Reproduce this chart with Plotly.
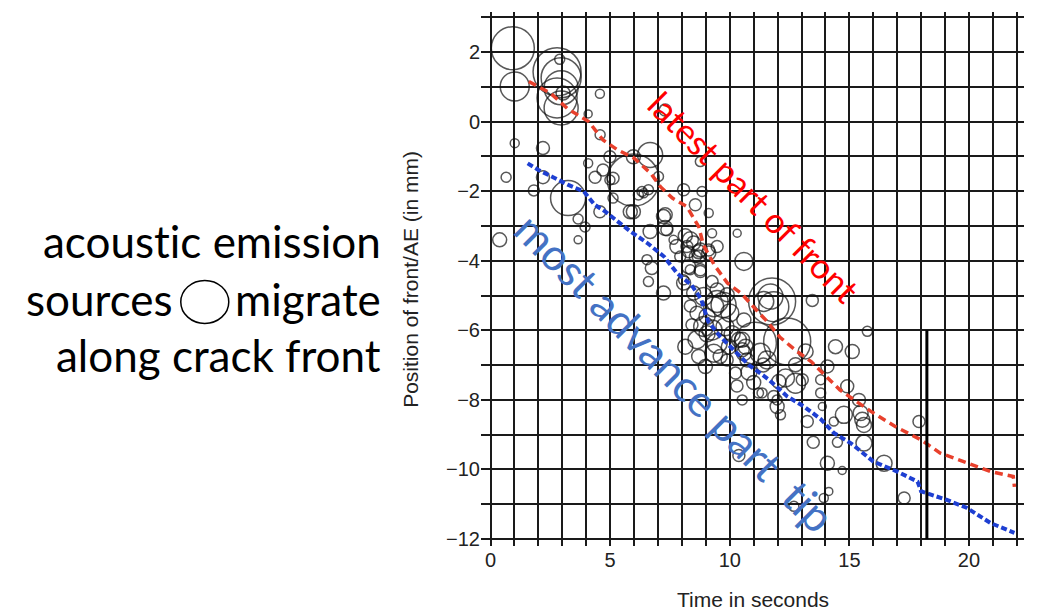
import plotly.graph_objects as go

# Acoustic emission sources: time (s), position along crack (mm), relative amplitude
ae_time = [
    0.93, 1.01, 2.78, 2.95, 2.95, 2.78, 2.95, 2.89, 3.03, 4.57, 4.08, 4.58,
    1.01, 2.19, 0.65, 4.08, 4.70, 4.99, 4.37, 2.19, 1.81, 3.24, 3.66, 3.95,
    3.66, 0.38, 5.12, 4.57, 4.99, 5.12, 5.84, 5.97, 6.67, 5.97, 7.30, 8.77,
    7.02, 6.33, 6.60, 6.18, 6.40, 8.07, 8.84, 8.56, 5.97, 7.30, 9.12, 6.67,
    7.30, 7.65, 8.35, 8.14, 8.49, 8.77, 8.28, 8.56, 6.54, 6.74, 7.93, 8.35,
    8.70, 6.60, 8.07, 8.77, 9.12, 10.31, 9.26, 9.47, 9.89, 7.23, 7.37, 7.79,
    7.23, 8.21, 8.70, 9.12, 9.47, 10.59, 8.28, 8.77, 9.26, 8.07, 8.49, 8.91,
    9.47, 9.74, 8.63, 9.05, 9.33, 8.42, 8.91, 9.26, 8.63, 9.47, 9.96, 8.14,
    8.70, 10.38, 10.52, 10.72, 9.89, 11.70, 11.84, 11.77, 12.40, 11.07, 13.45, 11.42,
    10.59, 10.52, 10.66, 10.59, 11.28, 11.56, 13.17, 12.75, 12.33, 12.75, 12.05, 11.35,
    11.84, 11.98, 12.12, 10.52, 13.80, 13.80, 13.24, 10.24, 15.75, 14.42, 15.12, 14.08,
    13.03, 14.91, 15.40, 13.87, 14.77, 15.47, 15.54, 15.61, 14.35, 17.91, 15.61, 13.49,
    14.50, 14.08, 14.70, 16.45, 14.14, 13.93, 17.29, 12.68, 10.38, 11.98, 11.20, 9.05,
    9.33, 8.98, 9.60, 10.10, 10.00, 8.35, 9.80, 10.80, 11.00, 10.30, 11.40,
]
ae_position = [
    2.11, 1.01, 1.43, 1.26, 0.97, 0.68, 0.39, 1.79, 0.82, 0.80, 0.22, -0.38,
    -0.62, -0.76, -1.60, -1.20, -1.39, -1.01, -1.60, -1.60, -1.98, -2.20, -2.80, -3.03,
    -3.40, -3.40, -2.20, -2.59, -1.68, -1.63, -2.59, -1.68, -0.96, -1.01, 0.33, -1.15,
    -1.58, -2.01, -1.96, -2.11, -2.06, -1.96, -2.01, -2.39, -2.59, -2.68, -2.63, -3.16,
    -3.06, -3.40, -3.40, -3.28, -3.49, -3.69, -3.74, -3.88, -3.97, -4.21, -3.88, -4.26,
    -3.88, -4.60, -4.55, -4.26, -3.69, -3.21, -3.21, -4.84, -4.98, -2.73, -3.11, -3.59,
    -4.93, -3.59, -3.74, -3.78, -3.59, -4.02, -4.17, -4.31, -4.60, -4.64, -4.93, -5.03,
    -5.17, -5.27, -5.51, -5.60, -5.32, -5.84, -5.89, -5.99, -6.27, -6.37, -6.47, -6.47,
    -6.75, -6.27, -6.56, -6.85, -6.85, -5.03, -5.32, -5.17, -6.32, -6.37, -5.14, -5.17,
    -5.70, -6.27, -6.47, -6.66, -6.66, -6.85, -6.61, -6.99, -7.37, -7.52, -7.47, -7.80,
    -7.90, -8.19, -8.43, -8.00, -7.42, -7.80, -8.62, -7.23, -6.03, -6.47, -6.61, -7.04,
    -7.42, -7.61, -8.00, -8.19, -8.43, -8.38, -8.57, -8.72, -8.62, -8.62, -9.24, -9.22,
    -9.22, -9.82, -10.03, -9.82, -10.63, -10.82, -10.82, -11.06, -9.60, -8.00, -7.80, -6.10,
    -6.66, -7.04, -6.75, -6.10, -5.50, -5.30, -5.90, -7.20, -7.50, -7.60, -7.00,
]
ae_amplitude = [
    43, 29, 48, 40, 34, 40, 34, 10, 14, 9, 8, 10,
    9, 13, 10, 9, 12, 12, 12, 13, 11, 35, 10, 10,
    8, 14, 10, 12, 10, 12, 14, 52, 25, 14, 12, 10,
    10, 10, 10, 10, 9, 12, 10, 12, 14, 14, 9, 14,
    15, 9, 16, 14, 14, 14, 12, 12, 10, 13, 11, 10,
    13, 10, 10, 12, 12, 8, 9, 14, 14, 14, 12, 14,
    14, 12, 14, 14, 12, 18, 14, 12, 12, 14, 14, 18,
    22, 25, 14, 16, 20, 12, 20, 20, 18, 20, 15, 15,
    14, 15, 14, 14, 12, 25, 30, 47, 47, 42, 12, 20,
    14, 15, 15, 15, 20, 18, 15, 14, 18, 20, 14, 10,
    12, 14, 10, 10, 10, 10, 12, 12, 10, 14, 14, 13,
    12, 13, 13, 8, 17, 15, 15, 15, 9, 12, 16, 12,
    10, 14, 8, 16, 8, 9, 12, 10, 12, 10, 10, 16,
    18, 14, 14, 16, 18, 12, 18, 16, 14, 12, 14,
]

# Latest (trailing) part of the rupture front
latest_time = [1.6, 2.5, 3.2, 4.1, 4.7, 5.3, 6.0, 6.7, 7.1, 7.6, 8.2, 8.7, 8.9, 9.35,
               9.9, 10.5, 11.1, 11.5, 12.1, 12.8, 13.4, 14.1, 14.6, 15.2, 15.9, 16.9,
               18.0, 18.8, 19.9, 20.9, 21.5, 21.85, 21.9]
latest_pos = [1.15, 0.82, 0.38, 0.0, -0.53, -0.81, -1.05, -1.49, -1.87, -2.20, -2.44,
              -3.02, -3.55, -4.12, -4.64, -4.95, -5.41, -5.70, -6.20, -6.60, -6.90,
              -7.38, -7.71, -8.00, -8.33, -8.76, -9.15, -9.53, -9.80, -10.06, -10.15,
              -10.2, -10.5]

# Most advanced part of the front (crack tip)
tip_time = [1.55, 2.0, 2.55, 3.25, 3.9, 4.35, 4.8, 5.2, 5.85, 6.55, 7.25, 7.8, 8.4,
            8.8, 9.1, 9.6, 10.05, 10.8, 11.6, 12.4, 13.1, 13.8, 14.35, 15.05, 16.0,
            17.0, 17.85, 18.0, 19.05, 19.9, 20.9, 21.9]
tip_pos = [-1.2, -1.39, -1.58, -1.82, -2.01, -2.39, -2.59, -2.82, -3.16, -3.49, -3.88,
           -4.36, -4.70, -5.10, -5.75, -6.18, -6.50, -7.0, -7.4, -7.9, -8.19, -8.55,
           -8.95, -9.24, -9.77, -10.06, -10.35, -10.63, -10.87, -11.1, -11.54, -11.82]

# Vertical time marker
marker_time = [18.24, 18.24]
marker_pos = [-6.0, -12.0]

x_tickvals = list(range(0, 23))
x_ticktext = [str(v) if v % 5 == 0 else "" for v in x_tickvals]
y_tickvals = list(range(-12, 4))
y_ticktext = [(str(v).replace("-", "\u2212") if v % 2 == 0 and v <= 2 else "") for v in y_tickvals]

# zero-width non-joiner keeps "t" and "i" as separate glyphs
ZWNJ = "\u200c"

fig = go.Figure()

fig.add_trace(go.Scatter(
    x=ae_time, y=ae_position, mode="markers",
    marker=dict(symbol="circle-open", size=ae_amplitude, sizemode="diameter",
                color="#111111", line=dict(width=1.5, color="#111111")),
    hoverinfo="skip", showlegend=False,
))
fig.add_trace(go.Scatter(
    x=latest_time, y=latest_pos, mode="lines",
    line=dict(color="#E8402C", width=3.5, dash="8px,5px"),
    hoverinfo="skip", showlegend=False,
))
fig.add_trace(go.Scatter(
    x=tip_time, y=tip_pos, mode="lines",
    line=dict(color="#1E3FD2", width=4, dash="6px,3px"),
    hoverinfo="skip", showlegend=False,
))
fig.add_trace(go.Scatter(
    x=marker_time, y=marker_pos, mode="lines",
    line=dict(color="#000000", width=3),
    hoverinfo="skip", showlegend=False,
))

tick_font = dict(family="Liberation Sans, Arial, sans-serif", size=20, color="#222222")
title_font = dict(family="Liberation Sans, Arial, sans-serif", size=21, color="#222222")

fig.update_xaxes(
    range=[-0.4, 22.3], tickmode="array", tickvals=x_tickvals, ticktext=x_ticktext,
    showgrid=True, gridcolor="#1a1a1a", gridwidth=1.5, zeroline=False, showline=False,
    ticks="", tickfont=tick_font, fixedrange=True,
)
fig.update_yaxes(
    range=[-12.2, 3.15], tickmode="array", tickvals=y_tickvals, ticktext=y_ticktext,
    showgrid=True, gridcolor="#1a1a1a", gridwidth=1.5, zeroline=False, showline=False,
    ticks="", tickfont=tick_font, fixedrange=True,
)

side_font = dict(family="Lato, Noto Sans, sans-serif", size=44, color="#000000")
annotations = [
    dict(text="Time in seconds", xref="paper", yref="paper", x=0.5, y=-0.1,
         xanchor="center", yanchor="middle", showarrow=False, font=title_font),
    dict(text="Position of front/AE (in mm)", xref="paper", yref="paper", x=-0.131, y=0.5,
         xanchor="center", yanchor="middle", textangle=-90, showarrow=False, font=title_font),
    dict(text="acoust" + ZWNJ + "ic emission", xref="paper", yref="paper", x=-0.1806, y=0.571,
         xanchor="right", yanchor="middle", showarrow=False, font=side_font),
    dict(text="sources", xref="paper", yref="paper", x=-0.5632, y=0.463,
         xanchor="right", yanchor="middle", showarrow=False, font=side_font),
    dict(text="migrate", xref="paper", yref="paper", x=-0.1806, y=0.463,
         xanchor="right", yanchor="middle", showarrow=False, font=side_font),
    dict(text="along crack front", xref="paper", yref="paper", x=-0.1806, y=0.357,
         xanchor="right", yanchor="middle", showarrow=False, font=side_font),
    dict(text="latest part of front", x=11.05, y=-2.16, xanchor="center", yanchor="middle",
         textangle=45, showarrow=False,
         font=dict(family="Lato, Noto Sans, sans-serif", size=35, color="#FF0000")),
    dict(text="most advance part  t" + ZWNJ + "ip", x=7.72, y=-7.19, xanchor="center",
         yanchor="middle", textangle=45, showarrow=False,
         font=dict(family="Lato, Noto Sans, sans-serif", size=44, color="#4472C4")),
]

fig.update_layout(
    width=1038, height=613,
    margin=dict(l=481, r=14, t=12, b=67),
    paper_bgcolor="white", plot_bgcolor="white",
    annotations=annotations,
    shapes=[dict(type="circle", xref="paper", yref="paper", xsizemode="pixel", ysizemode="pixel",
                 xanchor=-0.5087, yanchor=0.457, x0=-24, x1=24, y0=-21.5, y1=21.5,
                 line=dict(color="#000000", width=1.5))],
)

fig.write_html("out.html")
